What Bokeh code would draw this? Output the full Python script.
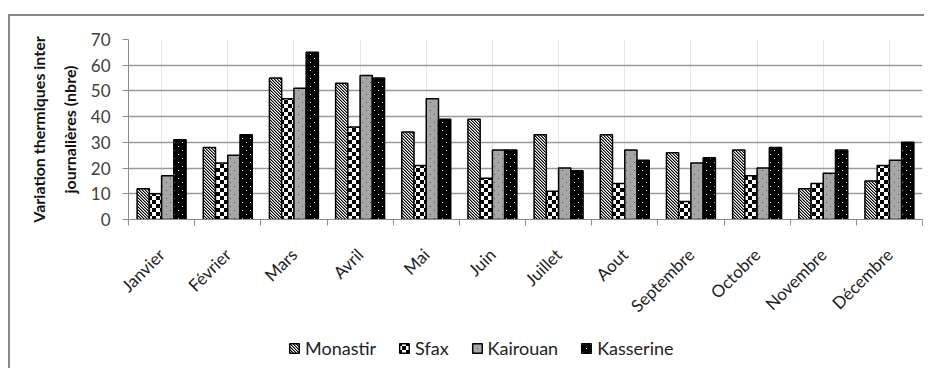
import base64
from math import pi
from bokeh.plotting import figure
from bokeh.core.properties import value
from bokeh.layouts import column
from bokeh.models import (FactorRange, Range1d, LinearAxis, CategoricalAxis, FixedTicker,
                          Legend, LegendItem, ColumnDataSource, ImageURLTexture)
from bokeh.transform import dodge
from bokeh.embed import file_html
from bokeh.resources import INLINE

months = ["Janvier", "Février", "Mars", "Avril", "Mai", "Juin", "Juillet", "Aout",
          "Septembre", "Octobre", "Novembre", "Décembre"]
monastir = [12, 28, 55, 53, 34, 39, 33, 33, 26, 27, 12, 15]
sfax = [10, 22, 47, 36, 21, 16, 11, 14, 7, 17, 14, 21]
kairouan = [17, 25, 51, 56, 47, 27, 20, 27, 22, 20, 18, 23]
kasserine = [31, 33, 65, 55, 39, 27, 19, 23, 24, 28, 27, 30]
series = ["Monastir", "Sfax", "Kairouan", "Kasserine"]
y_ticks = [0, 10, 20, 30, 40, 50, 60, 70]
y_label = "Variation thermiques inter\njournalières (nbre)"

source = ColumnDataSource(dict(month=months, Monastir=monastir, Sfax=sfax,
                               Kairouan=kairouan, Kasserine=kasserine))

FONT = "Lato"
GREY_LINE = "linear-gradient(#888888,#888888)"

p = figure(x_range=FactorRange(factors=months, range_padding=0), y_range=Range1d(0, 70),
           width=924, height=329, output_backend="svg", toolbar_location=None,
           x_axis_location=None, min_border_left=128, min_border_right=2,
           min_border_top=39, min_border_bottom=110)
p.outline_line_color = None
p.border_fill_alpha = 0
p.background_fill_color = "white"
p.styles = {"background": (GREY_LINE + " 8px 14px / 100% 2px no-repeat, " +
                           GREY_LINE + " 8px 14px / 2px 100% no-repeat, white")}

# y axis
p.yaxis.ticker = FixedTicker(ticks=y_ticks, minor_ticks=[])
p.yaxis.major_tick_out = 6
p.yaxis.major_tick_in = 0
p.yaxis.minor_tick_out = 0
p.yaxis.axis_line_color = "#8c8c8c"
p.yaxis.major_tick_line_color = "#8c8c8c"
p.yaxis.major_label_text_font = FONT
p.yaxis.major_label_text_font_size = "17px"
p.yaxis.major_label_text_color = "#404040"
p.yaxis.major_label_standoff = 12
p.yaxis.axis_label = y_label
p.yaxis.axis_label_text_font = FONT
p.yaxis.axis_label_text_font_style = "bold"
p.yaxis.axis_label_text_font_size = "16px"
p.yaxis.axis_label_text_color = "#111111"
p.yaxis.axis_label_standoff = 9
p.yaxis.axis_label_text_line_height = 1.6
p.ygrid.ticker = FixedTicker(ticks=y_ticks)
p.ygrid.grid_line_color = "#9a9a9a"
p.ygrid.grid_line_width = 1.3

# category boundary ticks (synthetic coordinates 0..12 of the factor range), minor only
edge_axis = LinearAxis(ticker=FixedTicker(ticks=[], minor_ticks=list(range(len(months) + 1))),
                       major_tick_out=0, major_tick_in=0, minor_tick_out=6, minor_tick_in=0,
                       major_label_standoff=0,
                       axis_line_color="#8c8c8c", minor_tick_line_color="#8c8c8c")
p.add_layout(edge_axis, "below")
cat_axis = CategoricalAxis(axis_line_color=None, major_tick_line_color=None,
                           major_label_orientation=pi / 4, major_label_text_font=FONT,
                           major_label_text_font_size="17px", major_label_text_color="#222222",
                           major_label_standoff=20)
p.add_layout(cat_axis, "below")


def texture(body, size):
    svg = ('<svg xmlns="http://www.w3.org/2000/svg" width="%d" height="%d" '
           'shape-rendering="crispEdges">%s</svg>' % (size, size, body))
    return ImageURLTexture(url="data:image/svg+xml;base64," + base64.b64encode(svg.encode()).decode(),
                           repetition="repeat")


diag = texture('<rect width="3" height="3" fill="white"/>'
               '<rect x="0" y="0" width="1" height="1" fill="black"/>'
               '<rect x="1" y="1" width="1" height="1" fill="black"/>'
               '<rect x="2" y="2" width="1" height="1" fill="black"/>'
               '<rect x="1" y="0" width="1" height="1" fill="#8a8a8a"/>'
               '<rect x="2" y="1" width="1" height="1" fill="#8a8a8a"/>'
               '<rect x="0" y="2" width="1" height="1" fill="#8a8a8a"/>', 3)
checker = texture('<rect width="8" height="8" fill="white"/>'
                  '<rect width="4" height="4" fill="black"/>'
                  '<rect x="4" y="4" width="4" height="4" fill="black"/>', 8)
grey_dots = texture('<rect width="8" height="8" fill="#a6a6a6"/>'
                    '<rect x="2" y="2" width="1" height="1" fill="#555555"/>'
                    '<rect x="6" y="6" width="1" height="1" fill="#555555"/>', 8)
black_dots = texture('<rect width="8" height="8" fill="black"/>'
                     '<rect x="2" y="2" width="1" height="1" fill="white"/>'
                     '<rect x="6" y="6" width="1" height="1" fill="white"/>', 8)

styles = {
    "Monastir": dict(fill_color="white", hatch_pattern=value("diag"), hatch_extra={"diag": diag}),
    "Sfax": dict(fill_color="white", hatch_pattern=value("checker"),
                 hatch_extra={"checker": checker}),
    "Kairouan": dict(fill_color="#a6a6a6", hatch_pattern=value("gdots"),
                     hatch_extra={"gdots": grey_dots}),
    "Kasserine": dict(fill_color="black", hatch_pattern=value("bdots"),
                      hatch_extra={"bdots": black_dots}),
}

bar_w = 0.185
for i, name in enumerate(series):
    off = (i - 1.5) * bar_w
    p.vbar(x=dodge("month", off, range=p.x_range), top=name, width=bar_w, source=source,
           line_color="black", line_width=1.5, **styles[name])

# legend strip below the chart: same bar renderers (hidden), only the legend entries show
p2 = figure(width=924, height=39, x_range=FactorRange(factors=months, range_padding=0),
            y_range=Range1d(1000, 1001), output_backend="svg", toolbar_location=None,
            x_axis_location=None, y_axis_location=None, min_border=0)
p2.outline_line_color = None
p2.grid.visible = False
p2.border_fill_alpha = 0
p2.background_fill_alpha = 0
p2.styles = {"background": GREY_LINE + " 8px 0px / 2px 100% no-repeat, white"}
items = []
for i, name in enumerate(series):
    off = (i - 1.5) * bar_w
    r = p2.vbar(x=dodge("month", off, range=p2.x_range), top=name, width=bar_w, source=source,
                line_color="black", line_width=1.5, **styles[name])
    r.visible = False
    items.append(LegendItem(label=name, renderers=[r]))
legend = Legend(items=items, orientation="horizontal", location=(160, 9),
                glyph_width=12, glyph_height=12, label_standoff=5, spacing=22,
                padding=0, margin=0, border_line_color=None, background_fill_alpha=0,
                inactive_fill_alpha=0,
                label_text_font=FONT, label_text_font_size="18px", label_text_color="#222222",
                label_height=20)
p2.add_layout(legend)

open("out.html", "w").write(file_html(column(p, p2), INLINE))
